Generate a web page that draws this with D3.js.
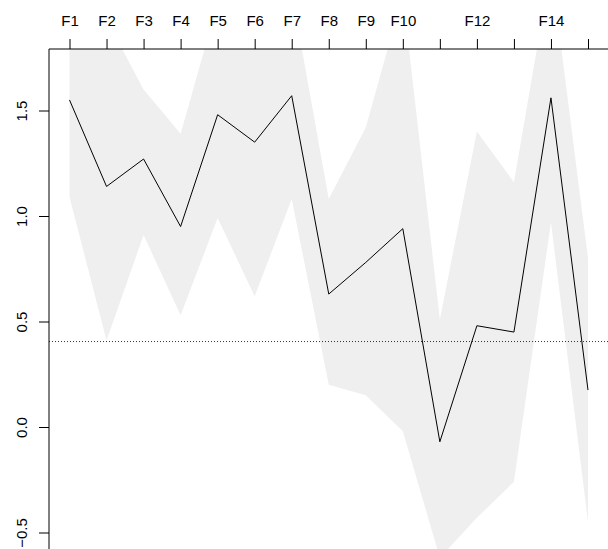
<!DOCTYPE html>
<html><head><meta charset="utf-8">
<script src="https://cdn.jsdelivr.net/npm/d3@7"></script>
<style>body{margin:0;background:#fff}svg{font-family:"Liberation Sans",Arial,sans-serif}</style>
</head><body>
<svg width="608" height="549"></svg>
<script>
const categories = ["F1","F2","F3","F4","F5","F6","F7","F8","F9","F10","F11","F12","F13","F14","F15"];
const shownLabels = ["F1","F2","F3","F4","F5","F6","F7","F8","F9","F10","F12","F14"];
const estimate = [1.55,1.14,1.27,0.95,1.48,1.35,1.57,0.63,0.78,0.94,-0.07,0.48,0.45,1.56,0.175];
const upper = [2.0,1.93,1.60,1.39,2.01,1.95,2.06,1.08,1.42,2.05,0.51,1.40,1.16,2.18,0.80];
const lower = [1.09,0.41,0.91,0.53,0.99,0.62,1.08,0.20,0.15,-0.02,-0.62,-0.43,-0.26,0.97,-0.45];
const refLine = 0.405;
const yTicks = [-0.5,0,0.5,1,1.5];

const svg = d3.select("svg");
const pLeft = 49, pTop = 49, pRight = 608, pBottom = 560;

const x = d3.scalePoint().domain(categories).range([69.5, 588]);
const y = d3.scaleLinear().domain([0, 1]).range([427, 216]);

svg.append("clipPath").attr("id","clip").append("rect")
  .attr("x", pLeft).attr("y", pTop).attr("width", pRight-pLeft).attr("height", pBottom-pTop);

const g = svg.append("g").attr("clip-path","url(#clip)");

g.append("path")
  .datum(categories.map((c,i) => ({c, u: upper[i], l: lower[i]})))
  .attr("fill", "#efefef")
  .attr("d", d3.area().x(d => x(d.c)).y0(d => y(d.l)).y1(d => y(d.u)));

g.append("line")
  .attr("x1", pLeft).attr("x2", pRight)
  .attr("y1", y(refLine)).attr("y2", y(refLine))
  .attr("stroke", "#000").attr("stroke-width", 0.8).attr("stroke-dasharray", "1,2");

g.append("path")
  .datum(categories.map((c,i) => ({c, v: estimate[i]})))
  .attr("fill", "none").attr("stroke", "#000").attr("stroke-width", 1)
  .attr("d", d3.line().x(d => x(d.c)).y(d => y(d.v)));

// top axis
const xAxis = svg.append("g").attr("transform", `translate(0,${pTop})`)
  .call(d3.axisTop(x).tickSize(10).tickPadding(13)
    .tickFormat(d => shownLabels.includes(d) ? d : ""));
xAxis.select(".domain").remove();
xAxis.append("line").attr("x1", pLeft).attr("x2", pRight).attr("stroke", "#000");
xAxis.selectAll("text").attr("font-size", 15).attr("fill", "#000").attr("font-family", null);

// left axis
const yAxis = svg.append("g").attr("transform", `translate(${pLeft},0)`)
  .call(d3.axisLeft(y).tickValues(yTicks).tickSize(10).tickFormat(d3.format(".1f")));
yAxis.select(".domain").remove();
yAxis.append("line").attr("y1", pTop).attr("y2", pBottom).attr("stroke", "#000");
yAxis.selectAll(".tick text")
  .attr("font-size", 15).attr("fill", "#000").attr("font-family", null)
  .attr("text-anchor", "middle").attr("x", 0).attr("dy", null)
  .attr("transform", "translate(-22,0) rotate(-90)")
  .text(d => d3.format(".1f")(d).replace("-", "\u2212"));
</script>
</body></html>
